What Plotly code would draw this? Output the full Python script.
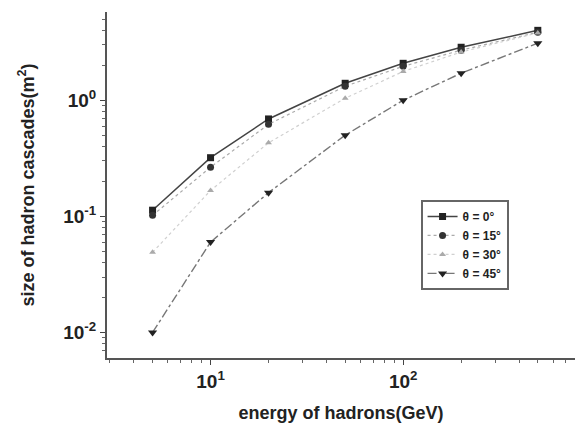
import plotly.graph_objects as go
import numpy as np

energy = [5, 10, 20, 50, 100, 200, 500]
theta0 = [0.113, 0.32, 0.69, 1.40, 2.08, 2.86, 4.0]
theta15 = [0.102, 0.265, 0.62, 1.32, 1.96, 2.70, 3.85]
theta30 = [0.049, 0.167, 0.43, 1.04, 1.77, 2.60, 3.80]
theta45 = [0.010, 0.060, 0.16, 0.50, 1.00, 1.71, 3.10]

xtick_vals = [10, 100]
xtick_text = ["<b>10<sup>1</sup></b>", "<b>10<sup>2</sup></b>"]
ytick_vals = [0.01, 0.1, 1]
ytick_text = ["<b>10<sup>-2</sup></b>", "<b>10<sup>-1</sup></b>", "<b>10<sup>0</sup></b>"]

fig = go.Figure()
fig.add_trace(go.Scatter(x=energy, y=theta0, name="<b>θ = 0°</b>", mode="lines+markers",
                         line=dict(color="#444444", width=1.5, dash="solid"),
                         marker=dict(symbol="square", size=7, color="#222222")))
fig.add_trace(go.Scatter(x=energy, y=theta15, name="<b>θ = 15°</b>", mode="lines+markers",
                         line=dict(color="#aaaaaa", width=1.2, dash="dot"),
                         marker=dict(symbol="circle", size=7, color="#333333")))
fig.add_trace(go.Scatter(x=energy, y=theta30, name="<b>θ = 30°</b>", mode="lines+markers",
                         line=dict(color="#d0d0d0", width=1.2, dash="dot"),
                         marker=dict(symbol="triangle-up", size=6, color="#aaaaaa")))
fig.add_trace(go.Scatter(x=energy, y=theta45, name="<b>θ = 45°</b>", mode="lines+markers",
                         line=dict(color="#777777", width=1.4, dash="dashdot"),
                         marker=dict(symbol="triangle-down", size=8, color="#222222")))

ff = "Liberation Sans, Arial, sans-serif"
axis_font = dict(family=ff, size=19, color="#222222")
fig.update_layout(
    width=575, height=424,
    margin=dict(l=99, r=8, t=4, b=74),
    paper_bgcolor="white", plot_bgcolor="white",
    font=dict(family=ff, color="#222222"),
    legend=dict(x=0.67, y=0.457, xanchor="left", yanchor="top",
                bordercolor="#666666", borderwidth=2, bgcolor="white",
                font=dict(size=12, family=ff),
                tracegroupgap=0, itemwidth=30),
    showlegend=True,
)
fig.update_xaxes(type="log", range=[np.log10(2.9), np.log10(780)],
                 tickvals=xtick_vals, ticktext=xtick_text, automargin=False,
                 tickfont=axis_font, ticks="outside", ticklen=5,
                 showline=True, linecolor="#555555", linewidth=2, showgrid=False,
                 minor=dict(ticks="outside", ticklen=3, tickcolor="#666666",
                            tickvals=[3, 4, 5, 6, 7, 8, 9, 20, 30, 40, 50, 60, 70, 80, 90, 200, 300, 400, 500, 600, 700]),
                 title=dict(text="<b>energy of hadrons(GeV)</b>",
                            font=dict(size=18, family=ff), standoff=16),
                 zeroline=False)
fig.update_yaxes(type="log", range=[-2.22, 0.76],
                 tickvals=ytick_vals, ticktext=ytick_text, automargin=False,
                 tickfont=axis_font, ticks="outside", ticklen=5,
                 showline=True, linecolor="#555555", linewidth=2, showgrid=False,
                 minor=dict(ticks="outside", ticklen=3, tickcolor="#666666",
                            tickvals=[0.007, 0.008, 0.009, 0.02, 0.03, 0.04, 0.05, 0.06, 0.07, 0.08, 0.09,
                                      0.2, 0.3, 0.4, 0.5, 0.6, 0.7, 0.8, 0.9, 2, 3, 4, 5]),
                 title=dict(text="<b>size of hadron cascades(m<sup>2</sup>)</b>",
                            font=dict(size=18, family=ff), standoff=24),
                 zeroline=False)

fig.write_html("out.html")
